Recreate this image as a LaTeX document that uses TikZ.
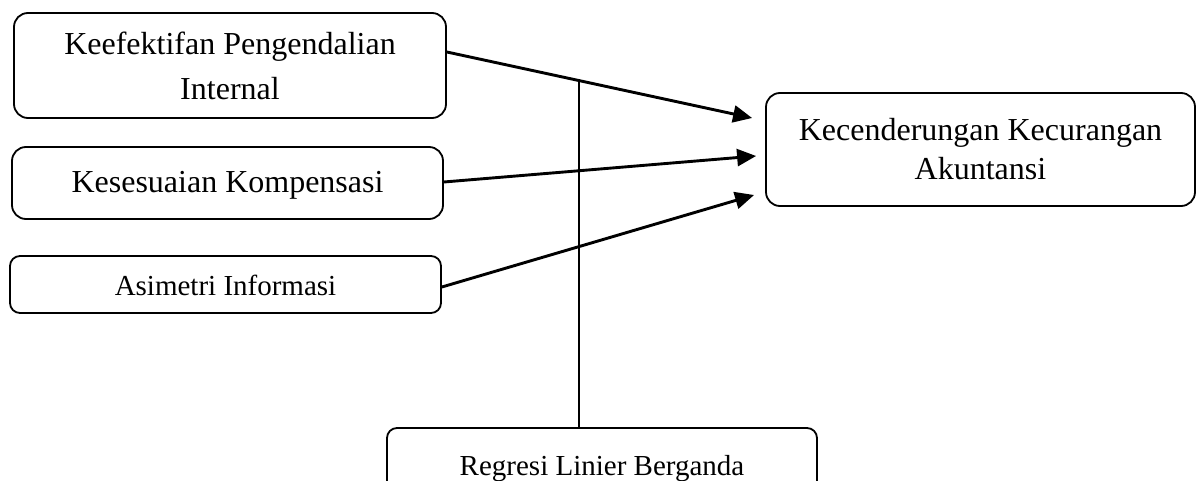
\documentclass[tikz,border=0pt]{standalone}
\usepackage{fontspec}
\setmainfont{Liberation Serif}
\usetikzlibrary{arrows.meta}
\begin{document}
\begin{tikzpicture}[x=1pt,y=-1pt,
  box/.style={draw, line width=1.8pt, rounded corners=14pt, align=center, inner sep=0pt},
  smallbox/.style={box, rounded corners=10pt},
  bigfont/.style={font=\fontsize{32}{45}\selectfont},
  smallfont/.style={font=\fontsize{29}{35}\selectfont},
  arr/.style={line width=2.9pt, -{Triangle[length=19pt,width=17pt]}},
  thin line/.style={line width=1.8pt}
]
\useasboundingbox (0,0) rectangle (1200,481);
\clip (0,0) rectangle (1200,481);

\node[box, bigfont, minimum width=432pt, minimum height=105pt] (k1) at (230,65.5) {Keefektifan Pengendalian\\Internal};
\node[box, bigfont, minimum width=431pt, minimum height=72pt, text height=25.5pt, text depth=7pt] (k2) at (227.5,183) {Kesesuaian Kompensasi};
\node[smallbox, smallfont, minimum width=431pt, minimum height=57pt, text height=21pt, text depth=0pt] (k3) at (225.5,284.5) {Asimetri Informasi};
\node[box, font=\fontsize{32}{39}\selectfont, minimum width=429pt, minimum height=113pt] (kk) at (980.5,149.5) {Kecenderungan Kecurangan\\Akuntansi};
\node[smallbox, smallfont, minimum width=430pt, minimum height=82pt] (rb) at (602,469) {Regresi Linier Berganda};

\draw[arr] ([yshift=13.5pt]k1.east) -- coordinate[pos=0.433] (m) ([xshift=-13pt,yshift=31.5pt]kk.west);
\draw[arr] ([yshift=1pt]k2.east) -- ([xshift=-9pt,yshift=-6.5pt]kk.west);
\draw[arr] ([yshift=-2.5pt]k3.east) -- ([xshift=-11pt,yshift=-45.5pt]kk.west);
\draw[thin line] (m) -- (m |- rb.north);
\end{tikzpicture}
\end{document}
